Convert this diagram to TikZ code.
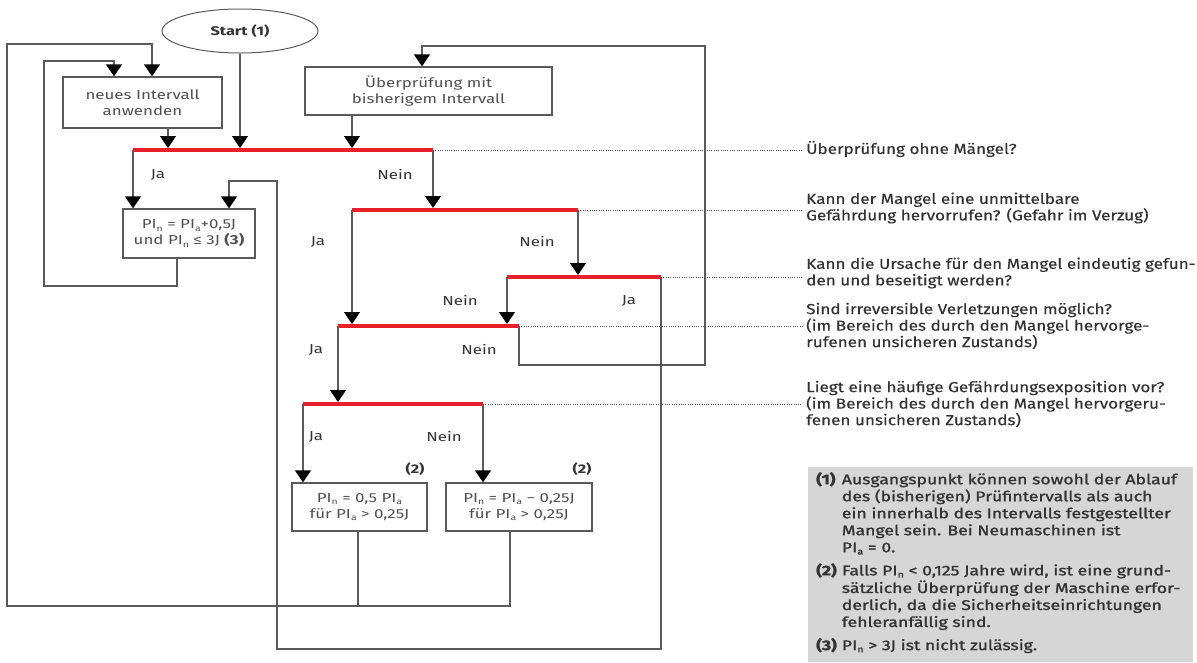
\documentclass[tikz,border=0pt]{standalone}
\usepackage{fontspec}
\usepackage{graphicx}
\setmainfont{Fira Sans}[FakeStretch=1.3]
\newfontfamily\labfont{Fira Sans}[FakeStretch=1.18,FakeBold=0.4]
\newfontfamily\legfont{Fira Sans}[FakeStretch=1.26,FakeBold=1.4]
\usetikzlibrary{arrows.meta,shapes.geometric}
\definecolor{lc}{HTML}{5A5A5A}
\definecolor{redc}{HTML}{E8202A}
\definecolor{txt}{HTML}{333333}
\definecolor{btxt}{HTML}{505050}
\definecolor{legbg}{HTML}{D6D6D6}
\newcommand\PI[1]{PI\raisebox{-0.3ex}{\scalebox{0.62}{#1}}}
\tikzset{
  ln/.style={draw=lc, line width=1.4pt},
  arr/.style={ln, -{Triangle[width=16pt,length=12pt,color=black,fill=black]}},
  arrb/.style={arr, shorten >=2pt},
  bar/.style={draw=redc, line width=4pt},
  dots/.style={draw=lc, line width=1pt, dash pattern=on 1pt off 1.3pt, shorten >=4pt},
  box/.style={draw=lc, line width=1.3pt, fill=white, align=center, text=btxt,
              inner sep=0pt, font=\fontsize{13}{16}\selectfont},
  lab/.style={anchor=west, align=left, text=txt, inner sep=0pt,
              font=\labfont\fontsize{14.5}{16.5}\selectfont},
  yn/.style={text=txt, inner sep=0pt, font=\fontsize{13}{15}\selectfont},
}
\begin{document}
\begin{tikzpicture}[x=1pt,y=-1pt]
\useasboundingbox (0,0) rectangle (1197,662);
% bar ends
\coordinate (b1l) at (133,150); \coordinate (b1r) at (433,150);
\coordinate (b2l) at (352,210); \coordinate (b2r) at (578,210);
\coordinate (b3l) at (507,277); \coordinate (b3r) at (661,277);
\coordinate (b4l) at (338,326); \coordinate (b4r) at (519,326);
\coordinate (b5l) at (303,404); \coordinate (b5r) at (483,404);
% loop corners and columns
\coordinate (xn) at (168,0);
\coordinate (xp) at (177,0);
\coordinate (xl) at (358,0);
\coordinate (xr) at (510,0);
\coordinate (lpA) at (7,606);   \coordinate (lpA2) at (152,44);
\coordinate (lpC) at (44,286);  \coordinate (lpC2) at (114,61);
\coordinate (lpB) at (277,649); \coordinate (lpT) at (229,181);
\coordinate (lpR) at (705,365); \coordinate (lpU) at (422,46);

% nodes
\node[ellipse, draw=lc, line width=1pt, minimum width=156pt, minimum height=44pt,
      inner sep=0pt, text=txt, font=\bfseries\fontsize{12.5}{14}\selectfont] (start) at (240,31) {Start (1)};
\node[box, minimum width=159pt, minimum height=51pt] (neu) at (142.5,102.5) {neues Intervall\\anwenden};
\node[box, minimum width=247pt, minimum height=48pt] (ueb) at (428.5,91) {Überprüfung mit\\bisherigem Intervall};
\node[box, minimum width=132pt, minimum height=49pt] (pi) at (189,233.5) {\PI{n} = \PI{a}+0,5J\\und \PI{n} ≤ 3J \textbf{(3)}};
\node[box, minimum width=135pt, minimum height=48pt] (bl) at (359.5,507) {\PI{n} = 0,5 \PI{a}\\für \PI{a} > 0,25J};
\node[box, minimum width=146pt, minimum height=48pt] (br) at (519,507) {\PI{n} = \PI{a} − 0,25J\\für \PI{a} > 0,25J};
\node[yn, font=\bfseries\fontsize{12.5}{14}\selectfont] (f2l) at (415,469) {(2)};
\node[yn, font=\bfseries\fontsize{12.5}{14}\selectfont] (f2r) at (582,469) {(2)};

% right labels
\node[lab] (lab1) at (806,149) {Überprüfung ohne Mängel?};
\node[lab] (lab2) at (806,208) {Kann der Mangel eine unmittelbare\\Gefährdung hervorrufen? (Gefahr im Verzug)};
\node[lab] (lab3) at (806,273) {Kann die Ursache für den Mangel eindeutig gefun-\\den und beseitigt werden?};
\node[lab] (lab4) at (806,326) {Sind irreversible Verletzungen möglich?\\(im Bereich des durch den Mangel hervorge-\\rufenen unsicheren Zustands)};
\node[lab] (lab5) at (806,404) {Liegt eine häufige Gefährdungsexposition vor?\\(im Bereich des durch den Mangel hervorgeru-\\fenen unsicheren Zustands)};

% yes / no labels
\node[yn] (y1) at (158,175) {Ja};
\node[yn] (n1) at (395,175) {Nein};
\node[yn] (y2) at (318,242) {Ja};
\node[yn] (n2) at (537,242) {Nein};
\node[yn] (n3) at (460,301) {Nein};
\node[yn] (y3) at (629,301) {Ja};
\node[yn] (y4) at (316,350) {Ja};
\node[yn] (n4) at (479,350) {Nein};
\node[yn] (y5) at (316,437) {Ja};
\node[yn] (n5) at (444,437) {Nein};

% connectors
\draw[arrb] (start) -- (start |- b1l);
\draw[arrb] (neu.south -| xn) -- (xn |- b1l);
\draw[arrb] (ueb.south -| b2l) -- (b2l |- b1l);
\draw[arr] (b1l) -- (b1l |- pi.north);
\draw[arrb] (b1r) -- (b1r |- b2l);
\draw[arrb] (b2l) -- (b2l |- b4l);
\draw[arrb] (b2r) -- (b2r |- b3l);
\draw[arrb] (b3l) -- (b3l |- b4l);
\draw[arr] (b3r) |- (lpB) |- (lpT) -- (lpT |- pi.north);
\draw[arrb] (b4l) -- (b4l |- b5l);
\draw[arr] (b4r) |- (lpR) |- (lpU) -- (lpU |- ueb.north);
\draw[arr] (b5l) -- (b5l |- bl.north);
\draw[arr] (b5r) -- (b5r |- br.north);
\draw[arr] (br.south -| xr) |- (lpA) |- (lpA2) -- (lpA2 |- neu.north);
\draw[ln] (bl.south -| xl) -- (xl |- lpA);
\draw[arr] (pi.south -| xp) |- (lpC) |- (lpC2) -- (lpC2 |- neu.north);

% dotted leaders
\draw[dots] (b1r) -- (lab1.west |- b1r);
\draw[dots] (b2r) -- (lab2.west |- b2r);
\draw[dots] (b3r) -- (lab3.west |- b3r);
\draw[dots] (b4r) -- (lab4.west |- b4r);
\draw[dots] (b5r) -- (lab5.west |- b5r);

% decision bars
\draw[bar] (b1l) -- (b1r);
\draw[bar] (b2l) -- (b2r);
\draw[bar] (b3l) -- (b3r);
\draw[bar] (b4l) -- (b4r);
\draw[bar] (b5l) -- (b5r);

% legend
\node[fill=legbg, anchor=north west, minimum width=385pt, minimum height=195pt, inner sep=0pt] (leg) at (808,467) {};
\node[anchor=north west, inner sep=0pt, text=txt, font=\legfont\fontsize{14}{17}\selectfont] (legtext) at (816,472) {%
\begin{tabular}{@{}l@{\hspace{5pt}}l@{}}
\bfseries(1) & Ausgangspunkt können sowohl der Ablauf\\
 & des (bisherigen) Prüfintervalls als auch\\
 & ein innerhalb des Intervalls festgestellter\\
 & Mangel sein. Bei Neumaschinen ist\\
 & \PI{a} = 0.\\[6pt]
\bfseries(2) & Falls \PI{n} < 0,125 Jahre wird, ist eine grund-\\
 & sätzliche Überprüfung der Maschine erfor-\\
 & derlich, da die Sicherheitseinrichtungen\\
 & fehleranfällig sind.\\[6pt]
\bfseries(3) & \PI{n} > 3J ist nicht zulässig.
\end{tabular}};
\end{tikzpicture}
\end{document}
